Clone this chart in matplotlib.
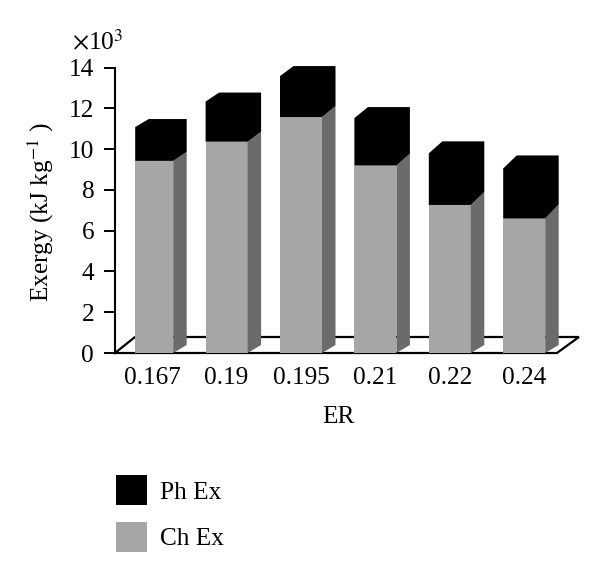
import numpy as np
import matplotlib
matplotlib.use("Agg")
import matplotlib.pyplot as plt
from matplotlib.patches import Patch

plt.rcParams['font.family'] = ['Liberation Serif', 'DejaVu Serif']
plt.rcParams['mathtext.fontset'] = 'stix'

er_labels = ['0.167', '0.19', '0.195', '0.21', '0.22', '0.24']
ch_ex = [9.42, 10.36, 11.57, 9.19, 7.26, 6.60]
ph_ex = [1.66, 1.97, 2.01, 2.33, 2.53, 2.45]
y_ticks = [0, 2, 4, 6, 8, 10, 12, 14]

W, H = 600, 574
FS = 18.2
GRAY = '#a6a6a6'
SIDE = '#6b6b6b'

fig = plt.figure(figsize=(W / 100, H / 100), dpi=100)
ax = fig.add_axes([115 / W, 1 - 353 / H, 465 / W, 285.5 / H])
ax.set_xlim(-0.5, 5.75)
ax.set_ylim(0, 14)

# px sizes turned into data units
px_x = 6.25 / 465
px_y = 14 / 285.5
dx = 13.5 * px_x
half = 21 * px_x

# floor of the fake 3d box
fx0, fx1 = -0.5, 5.44
fd = 22 * px_x
fr = 16 * px_y
ax.plot([fx0, fx1, fx1 + fd, fx0 + 20 * px_x, fx0],
        [0, 0, fr, fr, 0], color='black', lw=1.6, clip_on=False, zorder=1,
        solid_joinstyle='miter')

for i in range(len(ch_ex)):
    left = i - half if i > 0 else i - 17 * px_x
    right = i + half
    low = ch_ex[i]
    top = low + ph_ex[i]
    # the depth grows a bit towards the right bars in the original
    rise_top = (8 + i) * px_y
    rise_mid = (9 + i) * px_y
    rise_low = 8 * px_y

    ax.fill([left, right, right, left], [0, 0, low, low], color=GRAY, lw=0, zorder=3, clip_on=False)
    ax.fill([right, right + dx, right + dx, right], [0, rise_low, low + rise_mid, low],
            color=SIDE, lw=0, zorder=3, clip_on=False)
    ax.fill([left, right, right + dx, right + dx, left + dx, left],
            [low, low, low + rise_mid, top + rise_top, top + rise_top, top],
            color='black', lw=0, zorder=4, clip_on=False)

ax.spines['top'].set_visible(False)
ax.spines['right'].set_visible(False)
ax.spines['bottom'].set_visible(False)
ax.spines['left'].set_linewidth(1.5)
ax.patch.set_visible(False)

ax.set_yticks(y_ticks)
ax.tick_params(axis='y', length=8, width=1.4, labelsize=FS, pad=7)
ax.set_xticks(range(len(er_labels)))
ax.set_xticklabels(er_labels)
ax.tick_params(axis='x', length=0, labelsize=FS, pad=10)

fig.text(338 / W, 1 - 417 / H, 'ER', ha='center', va='center', fontsize=FS)
fig.text(41 / W, 1 - 212 / H, r'Exergy (kJ kg$^{-1}$ )', rotation=90,
         ha='center', va='center', fontsize=FS)
fig.text(72 / W, 1 - 50 / H, r'$\times$10$^{3}$', ha='left', va='baseline', fontsize=FS)

handles = [Patch(color='black', lw=0), Patch(color=GRAY, lw=0)]
fig.legend(handles, ['Ph Ex', 'Ch Ex'], loc='upper left',
           bbox_to_anchor=(116 / W, 1 - 475 / H), frameon=False, fontsize=FS,
           borderpad=0, borderaxespad=0, handlelength=1.23, handleheight=1.47,
           handletextpad=0.52, labelspacing=0.65)

fig.savefig('out.png', dpi=100, facecolor='white')
